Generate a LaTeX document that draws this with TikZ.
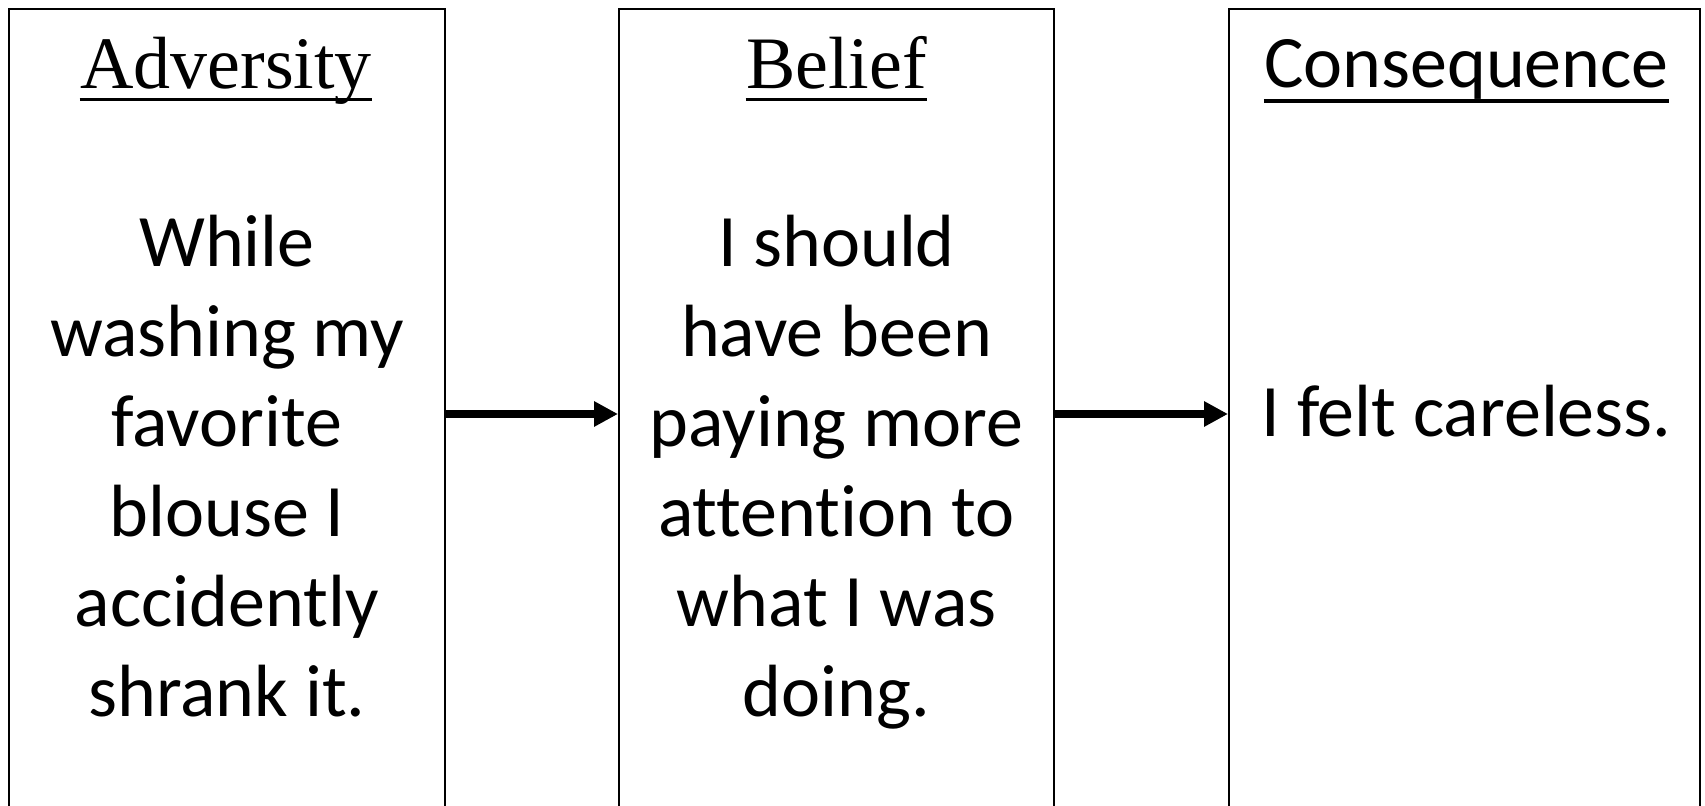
\documentclass[tikz,border=0pt]{standalone}
\usepackage{fontspec}
\setmainfont{Liberation Serif}
\newfontfamily\calfont[RawFeature={-liga;-clig;-dlig}]{Carlito}
\usetikzlibrary{arrows.meta}
\begin{document}
\begin{tikzpicture}[x=0.5pt,y=-0.5pt,
  box/.style={draw=black,line width=1pt,inner sep=0pt,minimum height=495pt},
  ttl/.style={font=\fontsize{37}{45}\selectfont,inner sep=0pt,anchor=base},
  ttlc/.style={font=\calfont\fontsize{37}{45}\selectfont,inner sep=0pt,anchor=base},
  body/.style={font=\calfont\fontsize{37}{45}\selectfont,align=center,inner sep=0pt,anchor=base},
  uline/.style={line width=1.75pt},
  arr/.style={line width=3.75pt,-{Triangle[length=12pt,width=12pt]}}]
\useasboundingbox (0,0) rectangle (1705,806);
\clip (0,0) rectangle (1705,806);
\fill[white] (0,0) rectangle (1705,806);
% boxes
\node[box,minimum width=218pt] (A) at (227,504.5) {};
\node[box,minimum width=217.5pt] (B) at (836.5,504.5) {};
\node[box,minimum width=235.5pt] (C) at (1464.5,504.5) {};
% titles
\node[ttl] (tA) at (226,89) {Adversity};
\draw[uline] ([yshift=-5.25pt]tA.base west) -- ([yshift=-5.25pt]tA.base east);
\node[ttl] (tB) at (836.5,89) {Belief};
\draw[uline] ([yshift=-5.25pt]tB.base west) -- ([yshift=-5.25pt]tB.base east);
\node[ttlc] (tC) at (1466.5,87.5) {Consequence};
\draw[uline,line width=2pt] ([yshift=-6.75pt]tC.base west) -- ([yshift=-6.75pt]tC.base east);
% body texts (anchor = baseline of last line)
\node[body] (bA) at (227,717) {While\\washing my\\favorite\\blouse I\\accidently\\shrank it.};
\node[body] (bB) at (836.5,717) {I should\\have been\\paying more\\attention to\\what I was\\doing.};
\node[body] (bC) at (1466.5,437) {I felt careless.};
% arrows
\draw[arr] (A.east |- 0,414) -- (B.west |- 0,414);
\draw[arr] (B.east |- 0,414) -- (C.west |- 0,414);
\end{tikzpicture}
\end{document}
